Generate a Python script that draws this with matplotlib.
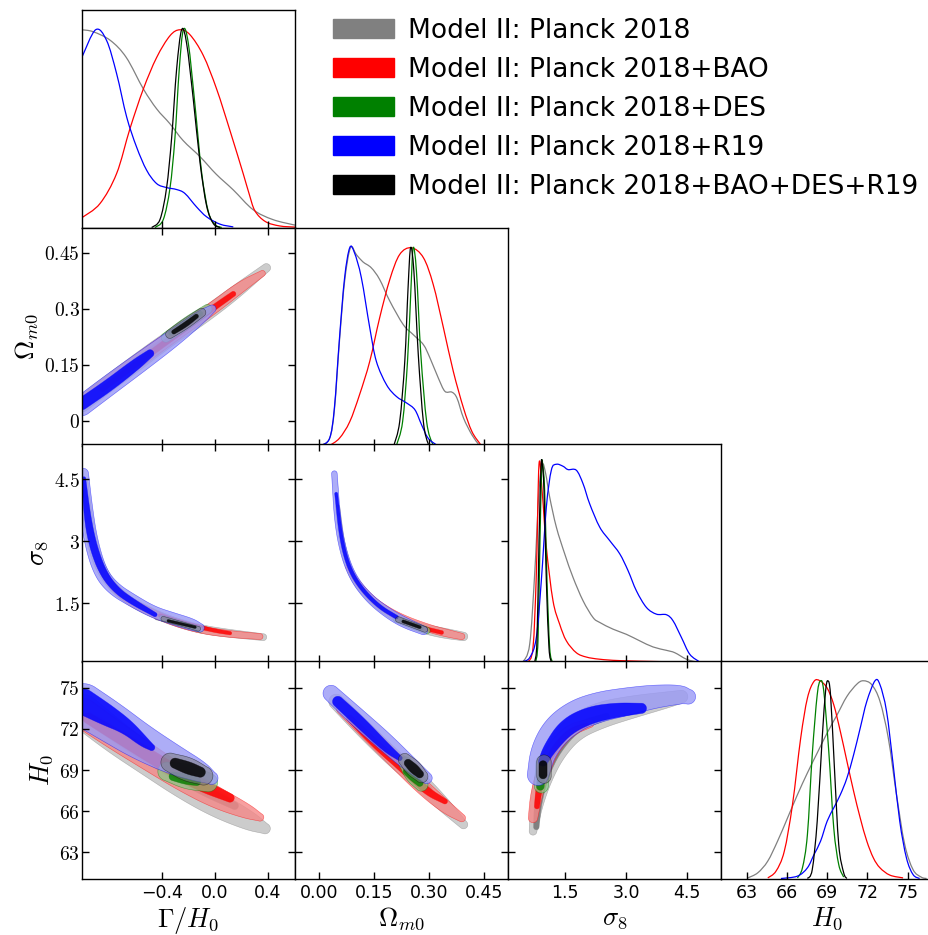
import numpy as np
import matplotlib
matplotlib.use('Agg')
import matplotlib.pyplot as plt
from matplotlib.colors import to_rgba
from matplotlib.patches import Patch, Polygon, PathPatch
from matplotlib.path import Path

plt.rcParams['mathtext.fontset'] = 'cm'

# ---------------- parameters ----------------
par_labels = [r'$\Gamma/H_0$', r'$\Omega_{m0}$', r'$\sigma_8$', r'$H_0$']
par_lims = [(-1.005, 0.607), (-0.067, 0.517), (0.085, 5.34), (61.1, 76.95)]
par_ticks = [[-0.4, 0.0, 0.4], [0.0, 0.15, 0.30, 0.45], [1.5, 3.0, 4.5], [63, 66, 69, 72, 75]]
xtick_text = [['\u22120.4', '0.0', '0.4'], ['0.00', '0.15', '0.30', '0.45'],
              ['1.5', '3.0', '4.5'], ['63', '66', '69', '72', '75']]
ytick_text = [None, ['0', '0.15', '0.3', '0.45'], ['1.5', '3', '4.5'],
              ['63', '66', '69', '72', '75']]

series = ['Model II: Planck 2018', 'Model II: Planck 2018+BAO', 'Model II: Planck 2018+DES',
          'Model II: Planck 2018+R19', 'Model II: Planck 2018+BAO+DES+R19']
keys = ['P18', 'BAO', 'DES', 'R19', 'ALL']
line_colors = ['#808080', '#ff0000', '#008000', '#0000ff', '#000000']
outer_fill = ['#cccccc', '#f58888', '#88c888', '#9999f5', '#7a7a7a']
fill_alpha = [1.0, 0.8, 0.7, 0.8, 0.55]
inner_alpha = [1.0, 0.85, 0.8, 0.85, 0.85]

# ---------------- 1D marginals (normalised) ----------------
gam_1d = {
    'P18': ([-1.005, -0.92, -0.79, -0.67, -0.54, -0.44, -0.34, -0.24, -0.11, 0.01, 0.14, 0.29, 0.44, 0.607],
            [1.0, 0.99, 0.946, 0.86, 0.70, 0.60, 0.525, 0.44, 0.357, 0.27, 0.19, 0.09, 0.04, 0.012]),
    'BAO': ([-1.005, -0.869, -0.743, -0.642, -0.541, -0.44, -0.339, -0.264, -0.188, -0.087, 0.014, 0.115,
             0.216, 0.26, 0.304, 0.383, 0.49, 0.607],
            [0.05, 0.121, 0.273, 0.50, 0.70, 0.86, 0.97, 1.0, 0.975, 0.87, 0.70, 0.49, 0.27, 0.17, 0.084,
             0.03, 0.008, 0.002]),
    'DES': ([-0.453, -0.39, -0.339, -0.302, -0.269, -0.238, -0.2, -0.15, -0.1, -0.049, 0.001, 0.052],
            [0, 0.04, 0.2, 0.45, 0.8, 1.0, 0.93, 0.62, 0.28, 0.08, 0.015, 0]),
    'R19': ([-1.005, -0.902, -0.819, -0.743, -0.667, -0.592, -0.516, -0.44, -0.365, -0.289, -0.226, -0.138,
             -0.062, 0.039, 0.14],
            [0.862, 1.0, 0.946, 0.778, 0.559, 0.407, 0.29, 0.222, 0.202, 0.192, 0.172, 0.104, 0.054, 0.017, 0.003]),
    'ALL': ([-0.478, -0.415, -0.365, -0.327, -0.289, -0.251, -0.213, -0.163, -0.112, -0.062, -0.011, 0.039],
            [0, 0.04, 0.2, 0.45, 0.8, 1.0, 0.93, 0.65, 0.33, 0.11, 0.02, 0]),
}
om_1d = {
    'P18': ([0.005, 0.028, 0.041, 0.055, 0.069, 0.085, 0.101, 0.119, 0.142, 0.165, 0.193, 0.23, 0.257, 0.285,
             0.303, 0.326, 0.344, 0.363, 0.377, 0.395, 0.418, 0.436],
            [0, 0.037, 0.18, 0.53, 0.83, 1.0, 0.966, 0.929, 0.899, 0.84, 0.73, 0.611, 0.561, 0.51, 0.443,
             0.341, 0.274, 0.27, 0.24, 0.139, 0.054, 0.007]),
    'BAO': ([0.028, 0.055, 0.083, 0.11, 0.138, 0.165, 0.193, 0.22, 0.252, 0.285, 0.312, 0.34, 0.367, 0.395,
             0.418, 0.441],
            [0, 0.037, 0.12, 0.257, 0.426, 0.645, 0.84, 0.966, 1.0, 0.95, 0.814, 0.595, 0.375, 0.189, 0.071, 0.007]),
    'DES': ([0.211, 0.228, 0.2415, 0.251, 0.257, 0.266, 0.278, 0.294, 0.31, 0.321],
            [0, 0.12, 0.426, 0.797, 1.0, 0.88, 0.46, 0.12, 0.01, 0]),
    'R19': ([0.005, 0.028, 0.041, 0.055, 0.069, 0.083, 0.096, 0.115, 0.138, 0.156, 0.184, 0.211, 0.239, 0.262,
             0.28, 0.298, 0.321],
            [0, 0.037, 0.19, 0.544, 0.848, 1.0, 0.975, 0.848, 0.595, 0.426, 0.307, 0.248, 0.215, 0.18, 0.105,
             0.037, 0.003]),
    'ALL': ([0.204, 0.22, 0.234, 0.243, 0.25, 0.259, 0.271, 0.285, 0.298, 0.307],
            [0, 0.12, 0.426, 0.797, 1.0, 0.88, 0.46, 0.12, 0.01, 0]),
}
s8_1d = {
    'P18': ([0.455, 0.62, 0.743, 0.85, 0.932, 1.014, 1.113, 1.278, 1.484, 1.689, 1.936, 2.183, 2.348, 2.677,
             3.006, 3.335, 3.665, 3.994, 4.2, 4.488, 4.735],
            [0, 0.09, 0.445, 0.868, 1.0, 0.953, 0.834, 0.682, 0.547, 0.428, 0.31, 0.225, 0.2, 0.166, 0.14,
             0.107, 0.076, 0.059, 0.047, 0.014, 0]),
    'BAO': ([0.578, 0.702, 0.784, 0.85, 0.932, 1.031, 1.195, 1.36, 1.525, 1.77, 2.018, 2.348, 2.842, 3.83, 4.49],
            [0, 0.073, 0.445, 1.0, 0.851, 0.58, 0.31, 0.191, 0.107, 0.047, 0.025, 0.014, 0.007, 0.002, 0]),
    'DES': ([0.767, 0.825, 0.874, 0.916, 0.94, 0.989, 1.047, 1.113, 1.179],
            [0, 0.107, 0.614, 0.987, 1.0, 0.868, 0.411, 0.073, 0]),
    'R19': ([0.414, 0.62, 0.784, 0.907, 1.031, 1.154, 1.278, 1.442, 1.566, 1.77, 1.936, 2.1, 2.348, 2.594,
             2.842, 3.047, 3.253, 3.5, 3.747, 3.994, 4.158, 4.364, 4.57, 4.817],
            [0, 0.022, 0.124, 0.411, 0.783, 0.97, 1.0, 0.99, 0.973, 0.97, 0.902, 0.8, 0.682, 0.614, 0.547,
             0.462, 0.36, 0.276, 0.242, 0.239, 0.208, 0.124, 0.039, 0]),
    'ALL': ([0.743, 0.8, 0.85, 0.9, 0.932, 0.973, 1.031, 1.096, 1.154],
            [0, 0.107, 0.614, 0.987, 1.0, 0.868, 0.411, 0.073, 0]),
}
h0_1d = {
    'P18': ([63.1, 63.84, 64.58, 65.31, 66.05, 66.79, 67.53, 68.26, 69.0, 69.74, 70.47, 71.21, 71.7, 72.32,
             72.93, 73.55, 74.16, 74.77, 75.39, 76.0, 76.4],
            [0.003, 0.029, 0.088, 0.189, 0.306, 0.424, 0.534, 0.635, 0.736, 0.828, 0.921, 0.983, 1.0, 0.98,
             0.896, 0.71, 0.424, 0.172, 0.045, 0.007, 0]),
    'BAO': ([64.58, 65.19, 65.81, 66.42, 67.03, 67.53, 68.02, 68.46, 69.0, 69.49, 69.98, 70.47, 70.97, 71.46,
             71.95, 72.44, 72.93, 73.67, 74.65],
            [0.003, 0.037, 0.138, 0.374, 0.71, 0.912, 0.997, 1.0, 0.963, 0.879, 0.744, 0.593, 0.441, 0.306,
             0.189, 0.104, 0.054, 0.017, 0.003]),
    'DES': ([66.79, 67.16, 67.53, 67.89, 68.26, 68.51, 68.75, 69.12, 69.49, 69.86, 70.23],
            [0.003, 0.054, 0.222, 0.626, 0.929, 1.0, 0.946, 0.643, 0.256, 0.071, 0.007]),
    'R19': ([65.56, 66.79, 67.53, 68.02, 68.51, 69.0, 69.49, 69.98, 70.47, 70.97, 71.46, 71.95, 72.56, 72.93,
             73.42, 73.91, 74.4, 74.9, 75.39, 75.88],
            [0, 0.012, 0.054, 0.121, 0.189, 0.29, 0.357, 0.424, 0.508, 0.626, 0.761, 0.896, 1.0, 0.98, 0.845,
             0.576, 0.29, 0.104, 0.02, 0]),
    'ALL': ([67.53, 67.89, 68.26, 68.63, 68.88, 69.05, 69.25, 69.54, 69.86, 70.23, 70.47],
            [0, 0.045, 0.29, 0.71, 0.946, 1.0, 0.929, 0.559, 0.172, 0.029, 0]),
}
marg_1d = [gam_1d, om_1d, s8_1d, h0_1d]

# ---------------- 2D credible regions ----------------
# each region: ridge points (x, y, half-width in % of panel width); (95%, 68%)
gam_om = {
    'P18': ([(-1.005, 0.045, 3.8), (-0.87, 0.082, 3.8), (-0.62, 0.148, 3.8), (-0.37, 0.214, 3.6),
             (-0.11, 0.274, 3.4), (0.14, 0.34, 3.2), (0.39, 0.41, 2.0)],
            [(-0.6, 0.16, 1.6), (-0.2, 0.255, 1.6), (0.1, 0.33, 1.4)]),
    'BAO': ([(-1.0, 0.05, 3.0), (-0.62, 0.15, 3.2), (-0.3, 0.232, 3.0), (0.0, 0.305, 2.8), (0.2, 0.36, 2.6),
             (0.36, 0.395, 1.4)],
            [(-0.85, 0.085, 1.2), (-0.45, 0.19, 1.4), (-0.1, 0.28, 1.4), (0.14, 0.34, 1.2)]),
    'DES': ([(-0.37, 0.223, 2.2), (-0.21, 0.262, 2.8), (-0.057, 0.299, 2.2)],
            [(-0.33, 0.235, 1.2), (-0.22, 0.262, 1.5), (-0.11, 0.287, 1.2)]),
    'R19': ([(-1.005, 0.04, 4.7), (-0.8, 0.095, 4.7), (-0.55, 0.16, 4.5), (-0.3, 0.225, 4.0),
             (-0.1, 0.28, 3.0), (-0.02, 0.3, 1.8)],
            [(-1.005, 0.045, 2.8), (-0.8, 0.095, 2.8), (-0.6, 0.15, 2.6), (-0.49, 0.18, 1.8)]),
    'ALL': ([(-0.34, 0.232, 2.0), (-0.22, 0.26, 2.4), (-0.1, 0.29, 2.0)],
            [(-0.31, 0.238, 1.0), (-0.22, 0.258, 1.2), (-0.14, 0.28, 1.0)]),
}
gam_s8 = {
    'P18': ([(-0.99, 4.4, 2.0), (-0.958, 3.43, 2.4), (-0.895, 2.54, 2.4), (-0.794, 1.976, 2.2),
             (-0.667, 1.59, 2.0), (-0.49, 1.29, 2.0), (-0.314, 1.065, 2.0), (-0.112, 0.879, 2.0),
             (0.09, 0.782, 1.9), (0.367, 0.685, 1.6)],
            [(-0.44, 1.153, 1.0), (-0.264, 1.024, 1.0), (-0.062, 0.879, 1.0)]),
    'BAO': ([(-0.882, 2.46, 1.3), (-0.794, 1.976, 1.6), (-0.667, 1.59, 1.7), (-0.49, 1.29, 1.7),
             (-0.314, 1.048, 1.7), (-0.112, 0.863, 1.7), (0.09, 0.766, 1.6), (0.342, 0.70, 1.4)],
            [(-0.415, 1.21, 0.8), (-0.213, 1.008, 0.9), (-0.011, 0.847, 0.9), (0.115, 0.782, 0.8)]),
    'DES': ([(-0.40, 1.145, 1.3), (-0.112, 0.871, 1.3)],
            [(-0.35, 1.09, 0.8), (-0.15, 0.92, 0.8)]),
    'R19': ([(-0.996, 4.637, 2.5), (-0.975, 3.83, 3.0), (-0.94, 3.024, 3.2), (-0.869, 2.258, 3.2),
             (-0.768, 1.855, 3.1), (-0.617, 1.556, 2.9), (-0.466, 1.29, 2.7), (-0.314, 1.129, 2.8),
             (-0.175, 0.992, 2.8), (-0.112, 0.911, 2.0)],
            [(-0.99, 4.52, 0.8), (-0.965, 3.59, 1.6), (-0.92, 2.86, 1.8), (-0.844, 2.22, 1.7),
             (-0.743, 1.81, 1.5), (-0.617, 1.53, 1.4), (-0.453, 1.23, 1.0)]),
    'ALL': ([(-0.39, 1.13, 1.1), (-0.125, 0.887, 1.1)],
            [(-0.352, 1.08, 0.6), (-0.15, 0.927, 0.6)]),
}
gam_h0 = {
    'P18': ([(-0.996, 73.26, 8.0), (-0.743, 71.32, 7.5), (-0.491, 69.63, 7.0), (-0.238, 67.93, 6.5),
             (0.014, 66.48, 6.0), (0.266, 65.27, 4.5), (0.38, 64.74, 2.5)],
            [(-0.9, 72.5, 3.0), (-0.5, 69.9, 3.0), (-0.1, 67.6, 2.6), (0.15, 66.4, 1.8)]),
    'BAO': ([(-0.996, 73.14, 7.0), (-0.743, 71.45, 6.5), (-0.491, 69.87, 6.0), (-0.238, 68.3, 5.5),
             (0.014, 66.97, 5.0), (0.241, 66.0, 3.5), (0.342, 65.56, 1.8)],
            [(-0.958, 72.78, 2.5), (-0.667, 71.08, 3.0), (-0.365, 69.27, 3.0), (-0.112, 67.93, 3.0),
             (0.115, 66.97, 2.0)]),
    'DES': ([(-0.36, 68.9, 4.4), (-0.206, 68.52, 6.0), (-0.05, 68.1, 4.4)],
            [(-0.314, 68.54, 2.0), (-0.22, 68.36, 2.6), (-0.138, 68.18, 2.0)]),
    'R19': ([(-0.996, 73.75, 10.0), (-0.794, 72.53, 9.5), (-0.567, 71.08, 8.5), (-0.314, 69.75, 7.0),
             (-0.112, 68.9, 5.0), (-0.024, 68.42, 3.0)],
            [(-0.996, 73.99, 6.0), (-0.819, 73.02, 5.0), (-0.667, 72.17, 3.5), (-0.541, 71.08, 2.5),
             (-0.478, 70.65, 1.5)]),
    'ALL': ([(-0.337, 69.56, 4.4), (-0.21, 69.07, 5.8), (-0.085, 68.59, 4.4)],
            [(-0.3, 69.5, 2.4), (-0.2, 69.15, 3.0), (-0.11, 68.85, 2.4)]),
}
om_s8 = {
    'P18': ([(0.05, 3.83, 1.0), (0.064, 2.78, 1.3), (0.092, 2.1, 1.5), (0.138, 1.61, 1.6), (0.184, 1.29, 1.8),
             (0.23, 1.065, 2.0), (0.285, 0.887, 2.2), (0.34, 0.782, 2.4), (0.395, 0.702, 2.0)],
            [(0.211, 1.089, 1.0), (0.303, 0.847, 1.0)]),
    'BAO': ([(0.078, 2.38, 1.0), (0.106, 1.976, 1.2), (0.147, 1.573, 1.5), (0.193, 1.29, 1.7),
             (0.239, 1.089, 1.8), (0.303, 0.887, 1.8), (0.349, 0.782, 1.8), (0.39, 0.702, 1.5)],
            [(0.22, 1.089, 0.9), (0.285, 0.903, 0.9), (0.335, 0.798, 0.9)]),
    'DES': ([(0.211, 1.129, 1.6), (0.294, 0.847, 1.6)],
            [(0.225, 1.089, 0.9), (0.28, 0.911, 0.9)]),
    'R19': ([(0.041, 4.637, 1.3), (0.05, 3.43, 1.5), (0.069, 2.62, 1.6), (0.096, 2.06, 1.7), (0.138, 1.61, 2.0),
             (0.184, 1.29, 2.3), (0.23, 1.048, 2.5), (0.285, 0.847, 2.0)],
            [(0.046, 4.15, 0.7), (0.06, 3.02, 0.8), (0.083, 2.3, 0.9), (0.119, 1.81, 0.9), (0.165, 1.41, 0.9),
             (0.211, 1.17, 0.9)]),
    'ALL': ([(0.216, 1.113, 1.3), (0.289, 0.871, 1.3)],
            [(0.23, 1.065, 0.7), (0.275, 0.927, 0.7)]),
}
om_h0 = {
    'P18': ([(0.046, 73.99, 3.5), (0.119, 72.05, 4.0), (0.193, 70.11, 4.0), (0.266, 68.42, 4.0),
             (0.331, 66.72, 3.5), (0.395, 65.03, 2.0)],
            [(0.1, 72.6, 1.8), (0.2, 70.0, 2.0), (0.3, 67.6, 1.6)]),
    'BAO': ([(0.064, 73.5, 3.0), (0.138, 71.57, 3.5), (0.211, 69.63, 3.5), (0.285, 67.69, 3.5),
             (0.349, 66.24, 3.0), (0.39, 65.51, 1.8)],
            [(0.083, 72.78, 1.5), (0.156, 70.84, 2.0), (0.229, 69.15, 2.0), (0.294, 67.45, 1.8),
             (0.344, 66.72, 1.2)]),
    'DES': ([(0.235, 69.5, 3.0), (0.257, 68.66, 4.0), (0.28, 67.93, 3.0)],
            [(0.239, 68.9, 1.6), (0.257, 68.5, 2.0), (0.275, 68.06, 1.6)]),
    'R19': ([(0.032, 74.59, 3.8), (0.101, 72.9, 4.3), (0.174, 71.2, 4.3), (0.239, 69.63, 3.7),
             (0.294, 68.42, 2.6)],
            [(0.0505, 73.99, 2.5), (0.11, 72.53, 2.7), (0.184, 70.6, 2.1), (0.22, 69.87, 1.2)]),
    'ALL': ([(0.234, 69.75, 3.0), (0.257, 69.15, 4.0), (0.28, 68.54, 3.0)],
            [(0.243, 69.51, 1.8), (0.259, 69.1, 2.3), (0.275, 68.71, 1.8)]),
}
s8_h0 = {
    'P18': ([(0.702, 64.54, 1.8), (0.784, 66.48, 3.0), (0.949, 68.42, 4.2), (1.237, 70.36, 5.0),
             (1.689, 72.05, 5.8), (2.348, 73.02, 6.2), (3.171, 73.62, 5.2), (3.994, 74.11, 3.8),
             (4.364, 74.35, 3.0)],
            [(0.784, 64.85, 1.3), (0.825, 66.72, 1.8), (0.99, 68.66, 2.0), (1.278, 70.5, 2.2),
             (1.772, 72.17, 2.2), (2.51, 72.9, 1.6)]),
    'BAO': ([(0.702, 65.51, 2.2), (0.784, 67.21, 2.8), (0.949, 68.9, 3.0), (1.195, 70.6, 3.0),
             (1.607, 71.93, 2.8), (2.1, 72.41, 2.0)],
            [(0.8, 66.36, 1.2), (0.85, 67.69, 1.5), (0.99, 69.15, 1.5), (1.237, 70.6, 1.5),
             (1.607, 71.81, 1.5), (2.018, 72.29, 1.0)]),
    'DES': ([(0.949, 69.58, 3.3), (0.907, 67.84, 3.3)],
            [(0.899, 68.42, 1.8), (0.883, 67.81, 1.8)]),
    'R19': ([(0.825, 68.66, 5.0), (0.949, 70.36, 6.0), (1.278, 71.93, 7.0), (1.772, 73.02, 7.2),
             (2.348, 73.62, 7.0), (3.006, 73.99, 6.5), (3.665, 74.35, 5.5), (4.323, 74.52, 4.5),
             (4.53, 74.35, 3.5)],
            [(0.949, 69.63, 2.2), (1.113, 70.6, 3.0), (1.525, 72.17, 4.0), (2.1, 73.02, 4.0),
             (2.76, 73.38, 3.4), (3.376, 73.5, 2.4)]),
    'ALL': ([(0.973, 69.58, 3.4), (0.973, 68.56, 3.4)],
            [(0.949, 69.39, 1.9), (0.949, 68.66, 1.9)]),
}
regions_2d = {(1, 0): gam_om, (2, 0): gam_s8, (3, 0): gam_h0,
              (2, 1): om_s8, (3, 1): om_h0, (3, 2): s8_h0}


def chaikin(p, n=4):
    for _ in range(n):
        q = 0.75 * p[:-1] + 0.25 * p[1:]
        r = 0.25 * p[:-1] + 0.75 * p[1:]
        mid = np.empty((2 * len(q), p.shape[1]))
        mid[0::2] = q
        mid[1::2] = r
        p = np.vstack([p[:1], mid, p[-1:]])
    return p


def region(ax, pts, face, edge):
    # filled credible region around a ridge line, widths given in % of the panel
    pts = np.asarray(pts, float)
    xy = ax.transData.transform(pts[:, :2])
    w = pts[:, 2] / 100.0 * ax.bbox.width
    p = chaikin(np.column_stack([xy, w]))
    xy, w = p[:, :2], p[:, 2]
    t = np.gradient(xy, axis=0)
    t /= np.hypot(t[:, 0], t[:, 1])[:, None]
    n = np.column_stack([-t[:, 1], t[:, 0]])
    left = xy + n * w[:, None]
    right = xy - n * w[:, None]
    a1 = np.arctan2(n[-1, 1], n[-1, 0])
    th = np.linspace(0, -np.pi, 24)
    cap1 = xy[-1] + w[-1] * np.column_stack([np.cos(a1 + th), np.sin(a1 + th)])
    a0 = np.arctan2(n[0, 1], n[0, 0])
    th = np.linspace(np.pi, 0, 24)
    cap0 = xy[0] + w[0] * np.column_stack([np.cos(a0 + th), np.sin(a0 + th)])
    poly = np.vstack([left, cap1, right[::-1], cap0])
    ax.add_patch(Polygon(ax.transData.inverted().transform(poly), closed=True,
                         facecolor=face, edgecolor=edge, lw=0.4))


def smooth_line(ax, xs, ys, color):
    # cubic Bezier through every read point (Catmull-Rom tangents)
    P = np.column_stack([xs, ys]).astype(float)
    Q = np.vstack([P[:1], P, P[-1:]])
    verts = [P[0]]
    codes = [Path.MOVETO]
    for k in range(len(P) - 1):
        c1 = Q[k + 1] + (Q[k + 2] - Q[k]) / 6.0
        c2 = Q[k + 2] - (Q[k + 3] - Q[k + 1]) / 6.0
        verts += [c1, c2, Q[k + 2]]
        codes += [Path.CURVE4] * 3
    ax.add_patch(PathPatch(Path(verts, codes), facecolor='none', edgecolor=color, lw=0.9))


# ---------------- layout ----------------
W, H = 929, 935
fig = plt.figure(figsize=(W / 100, H / 100), dpi=100)
col_left = [82, 295, 508, 721]
row_top = [10, 228, 444.5, 661]
cw, rh = 213, 217.5

for i in range(4):
    for j in range(i + 1):
        ax = fig.add_axes([col_left[j] / W, 1 - (row_top[i] + rh) / H, cw / W, rh / H])
        for s in ax.spines.values():
            s.set_linewidth(1.0)
        ax.set_xlim(par_lims[j])
        ax.set_xticks(par_ticks[j])
        if i == j:
            ax.set_ylim(0, 1.1)
            ax.set_yticks([])
            for k, key in enumerate(keys):
                xs, ys = marg_1d[i][key]
                smooth_line(ax, xs, ys, line_colors[k])
            ax.tick_params(axis='x', direction='in', length=5, width=1, top=False)
        else:
            ax.set_ylim(par_lims[i])
            ax.set_yticks(par_ticks[i])
            panel = regions_2d[(i, j)]
            for k, key in enumerate(keys):
                outer, inner = panel[key]
                edge = to_rgba(line_colors[k], 0.55)
                region(ax, outer, to_rgba(outer_fill[k], fill_alpha[k]), edge)
                region(ax, inner, to_rgba(line_colors[k], inner_alpha[k]), edge)
            ax.tick_params(direction='in', length=5, width=1, top=True, right=True)
        if i == 3:
            ax.set_xticklabels(xtick_text[j], fontsize=12.5)
            ax.tick_params(axis='x', pad=4)
            ax.set_xlabel(par_labels[j], fontsize=19, labelpad=2)
        else:
            ax.set_xticklabels([])
        if j == 0 and i > 0:
            ax.set_yticklabels(['$' + t + '$' for t in ytick_text[i]], fontsize=14)
            ax.tick_params(axis='y', pad=1.5)
            ax.set_ylabel(par_labels[i], fontsize=19, labelpad=3)
        elif i != j:
            ax.set_yticklabels([])

handles = [Patch(facecolor=c, edgecolor=c) for c in line_colors]
fig.legend(handles, series, loc='upper left', bbox_to_anchor=(333 / W, 1 - 18 / H),
           frameon=False, fontsize=19, handlelength=2.3, handleheight=0.75,
           handletextpad=0.55, labelspacing=0.49, borderpad=0, borderaxespad=0)

fig.savefig('out.png', dpi=100)
